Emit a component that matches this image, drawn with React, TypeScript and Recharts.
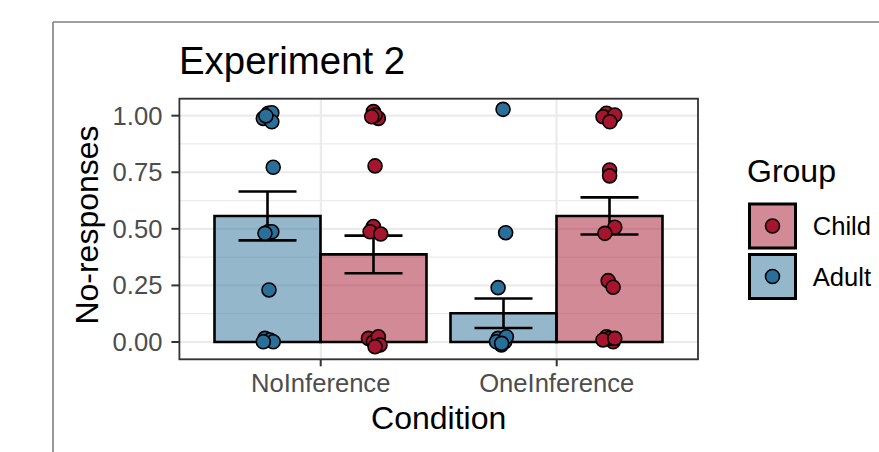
import React from 'react';
import { ComposedChart, Bar, XAxis, YAxis, CartesianGrid, ErrorBar, Scatter } from 'recharts';

// ---- data ----
const conditions = ['NoInference', 'OneInference'];
const adultMeans = [0.557, 0.127];
const childMeans = [0.387, 0.557];
const adultSE = [0.108, 0.065];
const childSE = [0.083, 0.082];
const yTicks = [0, 0.25, 0.5, 0.75, 1];
const yMinorTicks = [0.125, 0.375, 0.625, 0.875];
const groupLabels = ['Child', 'Adult'];

// individual (jittered) responses, per condition and group
const adultNoInfY = [1.011, 1.013, 0.988, 0.973, 0.999, 0.772, 0.487, 0.487, 0.48, 0.23, 0.016, 0.009, 0.001, 0.001];
const adultNoInfJit = [0.002, 0.017, -0.019, 0.017, -0.008, 0.023, 0.002, 0.017, -0.012, 0.005, -0.012, 0.009, 0.023, -0.019];
const childNoInfY = [1.018, 0.988, 1.003, 0.995, 0.778, 0.51, 0.487, 0.477, 0.016, 0.001, 0.023, -0.013, -0.021];
const childNoInfJit = [-0.002, 0.019, 0.005, -0.009, 0.005, -0.002, -0.016, 0.029, -0.023, -0.002, 0.019, 0.026, 0.005];
const adultOneInfY = [1.028, 0.483, 0.24, 0.016, 0.001, -0.013, 0.001, 0.023, -0.006];
const adultOneInfJit = [-0.002, 0.009, -0.023, -0.023, 0.005, -0.009, -0.03, 0.012, -0.008];
const childOneInfY = [1.011, 0.988, 0.995, 1.003, 0.973, 0.76, 0.734, 0.507, 0.48, 0.271, 0.242, 0.023, 0.001, 0.016, 0.009, 0.016];
const childOneInfJit = [-0.013, 0.008, -0.028, 0.022, 0.001, 0, 0, 0.022, -0.02, -0.006, 0.015, -0.013, 0.015, 0, -0.028, 0.022];

const ADULT = '#2A6F9A';
const CHILD = '#A5152D';
const FONT = '"Liberation Sans", Arial, Helvetica, sans-serif';

const barData = conditions.map((c, i) => ({
  condition: c,
  Adult: adultMeans[i],
  Child: childMeans[i],
  adultErr: adultSE[i],
  childErr: childSE[i],
}));

const DODGE = 0.225;
const mkPoints = (ys: number[], jit: number[], pos: number) =>
  ys.map((y, i) => ({ x: pos + jit[i], y }));

const adultPoints = [
  ...mkPoints(adultNoInfY, adultNoInfJit, 1 - DODGE),
  ...mkPoints(adultOneInfY, adultOneInfJit, 2 - DODGE),
];
const childPoints = [
  ...mkPoints(childNoInfY, childNoInfJit, 1 + DODGE),
  ...mkPoints(childOneInfY, childOneInfJit, 2 + DODGE),
];

const dot = (color: string) => (p: any) => (
  <circle cx={p.cx} cy={p.cy} r={7} fill={color} stroke="#000" strokeWidth={1.6} />
);

const W = 879;
const H = 452;
const PL = 179.4, PR = 698, PT = 98.7, PB = 359.3;
const XAXIS_H = 40;

export default function App() {
  return (
    <div style={{ position: 'absolute', left: 0, top: 0, width: W, height: H, background: '#fff' }}>
      <ComposedChart
        width={W}
        height={H}
        data={barData}
        margin={{ top: PT, right: W - PR, bottom: H - PB - XAXIS_H, left: 0 }}
        barCategoryGap="5%"
        barGap={0}
      >
        <CartesianGrid horizontalValues={yMinorTicks} vertical={false} stroke="#EBEBEB" strokeWidth={1.2} />
        <CartesianGrid vertical={false} stroke="#EBEBEB" strokeWidth={2.2} />
        <CartesianGrid xAxisId="jit" horizontal={false} verticalValues={[1, 2]} stroke="#EBEBEB" strokeWidth={2.2} />
        <XAxis
          dataKey="condition"
          type="category"
          height={XAXIS_H}
          padding={{ left: 23.3, right: 23.3 }}
          axisLine={false}
          tickSize={7}
          tickMargin={8}
          tickLine={{ stroke: '#333333', strokeWidth: 2 }}
          tick={{ fill: '#4D4D4D', fontSize: 25.6, fontFamily: FONT }}
          interval={0}
        />
        <XAxis xAxisId="jit" dataKey="x" type="number" domain={[0.4, 2.6]} allowDataOverflow hide />
        <YAxis
          type="number"
          domain={[-0.0765, 1.075]}
          allowDataOverflow
          ticks={yTicks}
          interval={0}
          tickFormatter={(v: number) => v.toFixed(2)}
          width={PL}
          axisLine={false}
          tickSize={8}
          tickMargin={9}
          tickLine={{ stroke: '#333333', strokeWidth: 2 }}
          tick={{ fill: '#4D4D4D', fontSize: 25.6, fontFamily: FONT }}
        />
        <Bar dataKey="Adult" fill={ADULT} fillOpacity={0.5} stroke="#000" strokeWidth={2.6} isAnimationActive={false}>
          <ErrorBar dataKey="adultErr" width={29} stroke="#000" strokeWidth={2.6} />
        </Bar>
        <Bar dataKey="Child" fill={CHILD} fillOpacity={0.5} stroke="#000" strokeWidth={2.6} isAnimationActive={false}>
          <ErrorBar dataKey="childErr" width={29} stroke="#000" strokeWidth={2.6} />
        </Bar>
        <Scatter xAxisId="jit" data={adultPoints} dataKey="y" shape={dot(ADULT)} isAnimationActive={false} />
        <Scatter xAxisId="jit" data={childPoints} dataKey="y" shape={dot(CHILD)} isAnimationActive={false} />
      </ComposedChart>
      <svg
        width={W}
        height={H}
        style={{ position: 'absolute', left: 0, top: 0, pointerEvents: 'none' }}
        fontFamily={FONT}
      >
        <line x1={53} y1={22} x2={W} y2={22} stroke="#7F7F7F" strokeWidth={1.6} />
        <line x1={53} y1={22} x2={53} y2={H} stroke="#7F7F7F" strokeWidth={1.6} />
        <rect x={PL} y={PT} width={PR - PL} height={PB - PT} fill="none" stroke="#333333" strokeWidth={1.8} />
        <text x={179} y={74} fontSize={38.4} fill="#000">Experiment 2</text>
        <text x={438.7} y={429.3} fontSize={32} fill="#000" textAnchor="middle">Condition</text>
        <text
          x={98}
          y={225}
          fontSize={32}
          fill="#000"
          textAnchor="middle"
          transform="rotate(-90 98 225)"
        >
          No-responses
        </text>
        <text x={747} y={181.7} fontSize={32} fill="#000">Group</text>
        {groupLabels.map((g, i) => {
          const top = 204 + i * 50.5;
          const color = g === 'Child' ? CHILD : ADULT;
          return (
            <g key={g}>
              <rect x={749.5} y={top} width={46} height={44} fill={color} fillOpacity={0.5} stroke="#000" strokeWidth={3} />
              <circle cx={772.5} cy={top + 22} r={7} fill={color} stroke="#000" strokeWidth={1.6} />
              <text x={812.7} y={top + 31} fontSize={25.6} fill="#000">{g}</text>
            </g>
          );
        })}
      </svg>
    </div>
  );
}
